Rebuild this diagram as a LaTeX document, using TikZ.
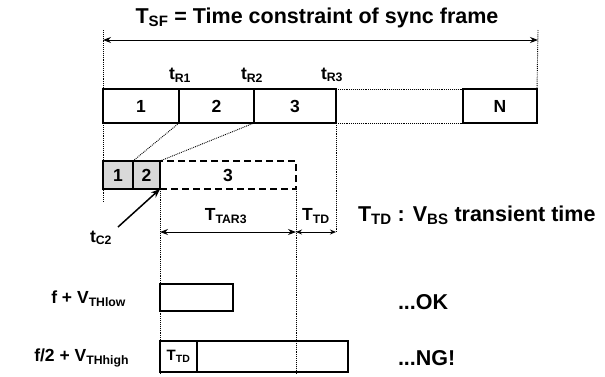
\documentclass[tikz,border=0pt]{standalone}
\usepackage{fontspec}
\setmainfont{Liberation Sans}
\usetikzlibrary{arrows.meta}
\newcommand\fsz[1]{\fontsize{#1}{#1}\selectfont}
\begin{document}
\begin{tikzpicture}[x=1pt,y=-1pt,
  font=\bfseries\fsz{17.5},
  every node/.style={inner sep=0pt,outer sep=0pt},
  fbox/.style={draw,line width=1.3pt,minimum height=34pt},
  sbox/.style={draw,line width=1.6pt,fill=gray!30,minimum height=28pt},
  bbox/.style={draw,line width=1.3pt},
  dotln/.style={densely dotted,line width=0.9pt},
  dash3/.style={dash pattern=on 7pt off 4pt,line width=1.2pt},
  dimarrow/.style={{Stealth[length=8pt,width=6pt]}-{Stealth[length=8pt,width=6pt]},line width=1pt},
  dimsmall/.style={{Stealth[length=6pt,width=5pt]}-{Stealth[length=6pt,width=5pt]},line width=1pt},
  lbl/.style={font=\bfseries\fsz{17.5}},
  big/.style={font=\bfseries\fsz{21.5}}]
\useasboundingbox (0,0) rectangle (605,376);
\fill[white] (0,0) rectangle (605,376);

% title and overall arrow
\node[big] (title) at (317,18) {T\textsubscript{SF} = Time constraint of sync frame};
\coordinate (tl) at (103,30);
\coordinate (bl) at (103,202);
\coordinate (tr) at (538,30);
\coordinate (sfL) at (103,40);
\coordinate (sfR) at (538,40);

% frame boxes
\node[fbox,minimum width=76pt] (f1) at (141,106) {1};
\node[fbox,minimum width=75pt] (f2) at (216.5,106) {2};
\node[fbox,minimum width=82pt] (f3) at (295,106) {3};
\node[fbox,minimum width=74pt] (fN) at (500,106) {N};
\draw[dotln] (f3.north east) -- (fN.north west);
\draw[dotln] (f3.south east) -- (fN.south west);

\draw[dotln] (tl) -- (bl);
\draw[dotln] (tr) -- (fN.north east);
\draw[dimarrow] (sfL) -- (sfR);

% tR labels
\node[lbl] (tr1) at (180,75) {t\textsubscript{R1}};
\node[lbl] (tr2) at (252,75) {t\textsubscript{R2}};
\node[lbl] (tr3) at (332,75) {t\textsubscript{R3}};

% small boxes
\node[minimum width=136pt,minimum height=28pt] (s3) at (228,175) {3};
\draw[dash3] (s3.south west) -- (s3.south east) -- (s3.north east) -- (s3.north west);
\node[sbox,minimum width=30pt] (s1) at (118,175) {1};
\node[sbox,minimum width=27pt] (s2) at (146.5,175) {2};

\draw[dotln] (f1.south east) -- (s2.north west);
\draw[dotln] (f2.south east) -- (s2.north east);

% verticals
\coordinate (tarL) at (160,232);
\coordinate (tarR) at (296,232);
\coordinate (tdR) at (336,232);
\coordinate (v1b) at (160,374);
\coordinate (v2b) at (296,375);
\draw[dotln] (s2.south east) -- (v1b);
\draw[dotln] (s3.south east) -- (v2b);
\draw[dotln] (f3.south east) -- (tdR);

\draw[dimarrow] (tarL) -- (tarR);
\draw[dimsmall] (tarR) -- (tdR);
\node[lbl] (ttar) at (226,216) {T\textsubscript{TAR3}};
\node[lbl] (ttd) at (316,216) {T\textsubscript{TD}};
\node[big,anchor=west] (legend) at (358,215) {T\textsubscript{TD} : V\textsubscript{BS} transient time};

% tC2
\node[lbl] (tc2) at (101,238) {t\textsubscript{C2}};
\draw[-{Stealth[length=9pt,width=7pt]},line width=1.5pt] (118,227) -- (s2.south east);

% bottom rows
\node[bbox,minimum width=73pt,minimum height=27pt] (b1) at (196.5,297.5) {};
\node[bbox,minimum width=188pt,minimum height=31pt] (b2) at (254,356.5) {};
\node[bbox,minimum width=37pt,minimum height=31pt,font=\bfseries\fsz{15}] (b2td) at (178.5,356.5) {T\textsubscript{TD}};

\node[lbl,anchor=east] (flow) at (126,299) {f + V\textsubscript{THlow}};
\node[lbl,anchor=east] (fhigh) at (129,358) {f/2 + V\textsubscript{THhigh}};
\node[big,anchor=west] (ok) at (398,302) {...OK};
\node[big,anchor=west] (ng) at (398,358) {...NG!};
\end{tikzpicture}
\end{document}
